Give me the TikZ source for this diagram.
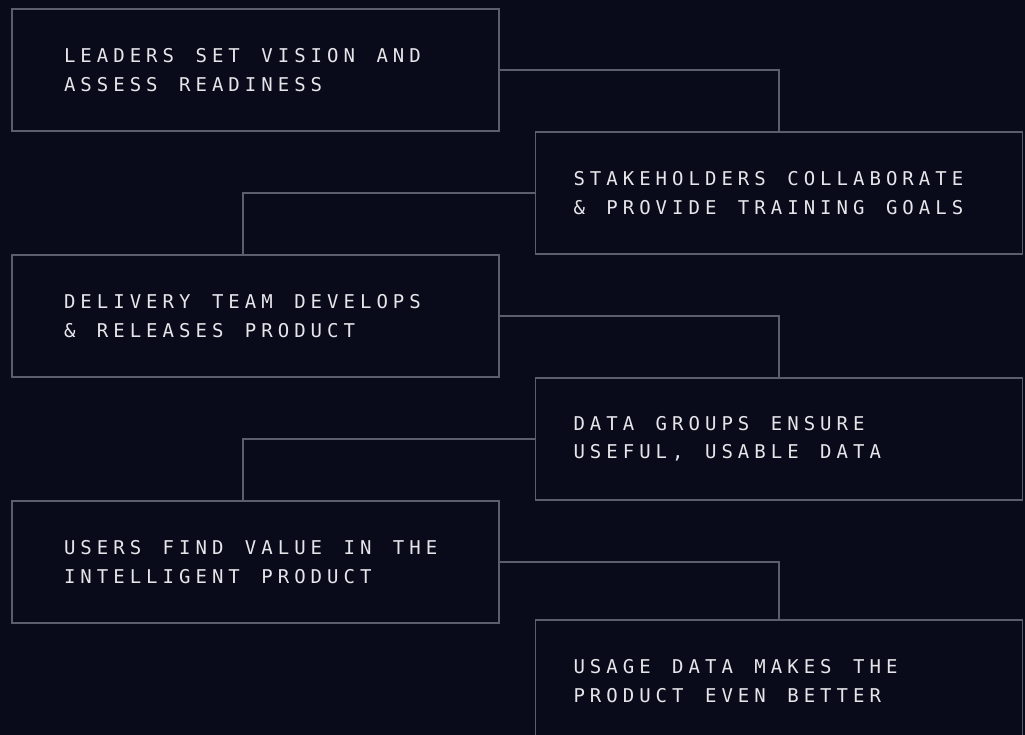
\documentclass[tikz,border=0pt]{standalone}
\usepackage{fontspec}
\newfontfamily\boxfont{DejaVu Sans Mono}
\definecolor{bgcol}{HTML}{090A1A}
\definecolor{linecol}{HTML}{5C5E6C}
\definecolor{txtcol}{HTML}{E6E6EA}
\newlength{\lsadv}
\setlength{\lsadv}{16.45pt}
\makeatletter
\newcommand{\ls}[1]{\lsgo#1\relax}
\def\lsgo{\futurelet\lsnext\lscheck}
\def\lscheck{\ifx\lsnext\@sptoken\expandafter\lsspace\else\expandafter\lschar\fi}
\def\lsspace{\hspace*{\lsadv}\afterassignment\lsgo\let\lsjunk= }
\def\lschar#1{\ifx\relax#1\else\makebox[\lsadv][l]{#1}\expandafter\lsgo\fi}
\makeatother
\tikzset{
  stepbox/.style={draw=linecol, line width=1.4pt, rectangle, minimum width=487pt, minimum height=122pt,
    inner ysep=0pt, align=left, text=txtcol,
    font=\boxfont\fontsize{19}{28.5}\selectfont},
  leftbox/.style={stepbox, text width=383pt, inner xsep=52pt},
  rightbox/.style={stepbox, text width=411pt, inner xsep=38pt},
  link/.style={draw=linecol, line width=1.4pt}
}
\begin{document}
\begin{tikzpicture}[x=1pt,y=-1pt]
\fill[bgcol] (0,0) rectangle (1025,735);
\useasboundingbox (0,0) rectangle (1025,735);
\clip (0,0) rectangle (1025,735);
\node[leftbox] (b1) at (255.5,70) {\ls{LEADERS SET VISION AND}\\\ls{ASSESS READINESS}};
\node[rightbox] (b2) at (779,193) {\ls{STAKEHOLDERS COLLABORATE}\\\ls{\& PROVIDE TRAINING GOALS}};
\node[leftbox] (b3) at (255.5,316) {\ls{DELIVERY TEAM DEVELOPS}\\\ls{\& RELEASES PRODUCT}};
\node[rightbox] (b4) at (779,439) {\ls{DATA GROUPS ENSURE}\\\ls{USEFUL, USABLE DATA}};
\node[leftbox] (b5) at (255.5,562) {\ls{USERS FIND VALUE IN THE}\\\ls{INTELLIGENT PRODUCT}};
\node[rightbox] (b6) at (779,681) {\ls{USAGE DATA MAKES THE}\\\ls{PRODUCT EVEN BETTER}};
\draw[link] (b1.east) -| (b2.north);
\draw[link] (b2.west) -| ([xshift=-12.5pt]b3.north);
\draw[link] (b3.east) -| (b4.north);
\draw[link] (b4.west) -| ([xshift=-12.5pt]b5.north);
\draw[link] (b5.east) -| (b6.north);
\end{tikzpicture}
\end{document}
